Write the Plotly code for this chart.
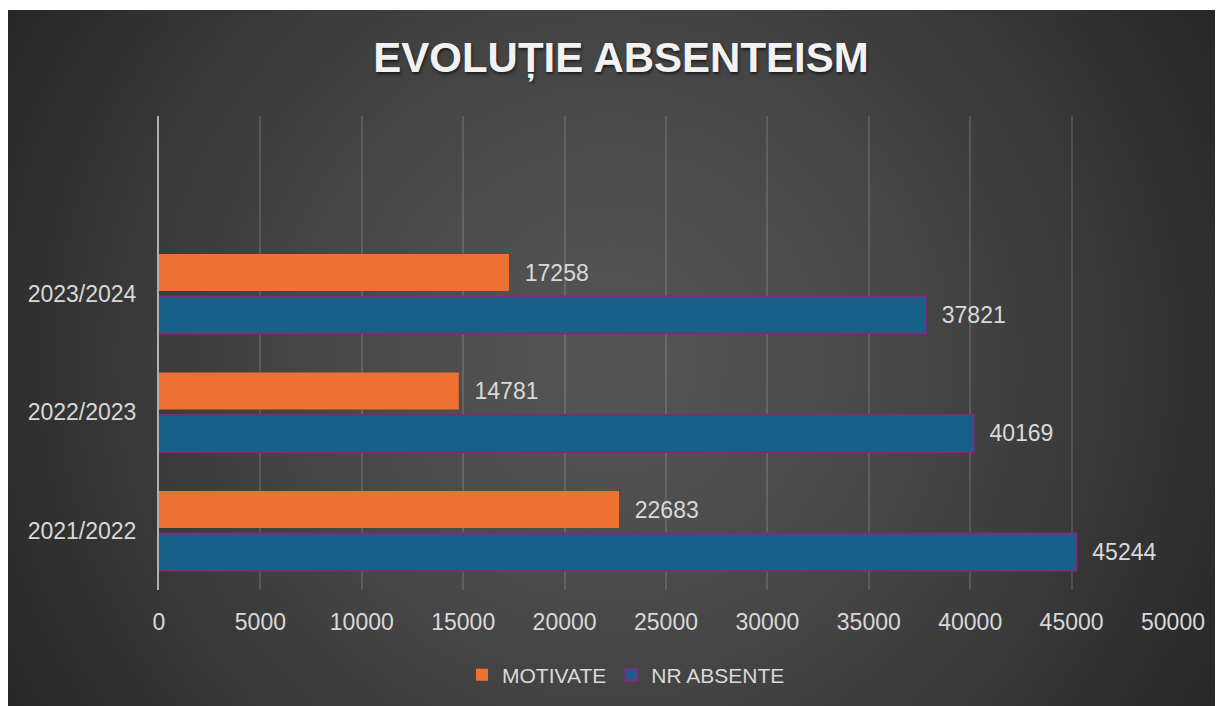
import base64, struct, zlib
import numpy as np
import plotly.graph_objects as go

# ---- data ----
years = ["2021/2022", "2022/2023", "2023/2024"]
nr_absente = [45244, 40169, 37821]
motivate = [22683, 14781, 17258]
x_ticks = [0, 5000, 10000, 15000, 20000, 25000, 30000, 35000, 40000, 45000, 50000]

OFF = 8  # page body margin
W, H = 1223, 706
# plot area in page pixels: x 159..1173, y 116..590
L, R, T, B = 159 - OFF, W - (1173 - OFF), 116 - OFF, H - (590 - OFF)
PW, PH = W - L - R, H - T - B


def gradient_png(w, h, cx, cy):
    yy, xx = np.mgrid[0:h, 0:w].astype(float)
    d = np.sqrt((xx - cx) ** 2 + (yy - cy) ** 2)
    val = 84 - 46 * (d / 700.0) ** 1.4
    arr = np.clip(np.round(val), 0, 255).astype(np.uint8)
    diff = arr.astype(np.int16)
    diff[:, 1:] = diff[:, 1:] - diff[:, :-1]
    filt = (diff % 256).astype(np.uint8)
    raw = b"".join(b"\x01" + filt[i].tobytes() for i in range(h))

    def chunk(t, data):
        c = struct.pack(">I", len(data)) + t + data
        return c + struct.pack(">I", zlib.crc32(t + data) & 0xFFFFFFFF)

    png = b"\x89PNG\r\n\x1a\n"
    png += chunk(b"IHDR", struct.pack(">IIBBBBB", w, h, 8, 0, 0, 0, 0))
    png += chunk(b"IDAT", zlib.compress(raw, 9))
    png += chunk(b"IEND", b"")
    return "data:image/png;base64," + base64.b64encode(png).decode()


# dark area in figure pixels
bx0, by0 = 0, 2
bw, bh = W - bx0, H - by0
bg = gradient_png(bw, bh, 611 - OFF - bx0, 358 - OFF - by0)

num_font = dict(family="Liberation Sans, Arial, sans-serif", size=23, color="#d9d9d9")
leg_font = dict(family="Liberation Sans, Arial, sans-serif", size=21, color="#d9d9d9")

fig = go.Figure()
fig.add_trace(go.Bar(
    name="NR ABSENTE", y=years, x=nr_absente, orientation="h",
    marker=dict(color="#17608A", line=dict(color="#7B2C7D", width=2)),
    text=[str(v) for v in nr_absente], texttemplate="\u00a0\u00a0%{text}",
    textposition="outside", textfont=num_font, cliponaxis=False,
    hoverinfo="skip",
))
fig.add_trace(go.Bar(
    name="MOTIVATE", y=years, x=motivate, orientation="h",
    marker=dict(color="#EE7132", line=dict(width=0)),
    text=[str(v) for v in motivate], texttemplate="\u00a0\u00a0%{text}",
    textposition="outside", textfont=num_font, cliponaxis=False,
    hoverinfo="skip",
))

fig.update_layout(
    width=W, height=H,
    margin=dict(l=L, r=R, t=T, b=B, pad=0),
    paper_bgcolor="white",
    plot_bgcolor="rgba(0,0,0,0)",
    barmode="group", bargap=0.283, bargroupgap=0.134,
    title=dict(
        text="<b>EVOLUȚIE ABSENTEISM</b>",
        font=dict(family="Liberation Sans, Arial, sans-serif", size=42, color="#f2f2f2",
                  shadow="1px 2px 3px rgba(0,0,0,0.6)"),
        xref="container", x=(621 - OFF) / W, xanchor="center",
        yref="container", y=1 - (57 - OFF) / H, yanchor="middle",
    ),
    xaxis=dict(
        range=[0, 50000], tickvals=x_ticks, ticktext=[str(v) for v in x_ticks],
        showgrid=True, gridcolor="rgba(255,255,255,0.13)", gridwidth=1.5,
        zeroline=False, showline=False, ticks="",
        tickfont=num_font, ticklabelstandoff=16,
    ),
    yaxis=dict(
        type="category", categoryorder="array", categoryarray=years,
        range=[-0.5, 3.5], showgrid=False, zeroline=False,
        showline=True, linecolor="#b0b0b0", linewidth=2, ticks="",
        tickfont=num_font, ticklabelstandoff=16,
    ),
    legend=dict(
        orientation="h", traceorder="reversed",
        x=(626 - 159) / PW, xanchor="center",
        y=(590 - 675) / PH, yanchor="middle",
        font=leg_font, bgcolor="rgba(0,0,0,0)", itemwidth=30,
    ),
    images=[dict(
        source=bg, xref="paper", yref="paper",
        x=(bx0 - L) / PW, y=(H - B - by0) / PH,
        sizex=bw / PW, sizey=bh / PH,
        xanchor="left", yanchor="top", sizing="stretch", layer="below",
    )],
    showlegend=True,
)

fig.write_html(
    "out.html",
    post_script="document.documentElement.style.overflow='hidden';document.body.style.overflow='hidden';",
)
